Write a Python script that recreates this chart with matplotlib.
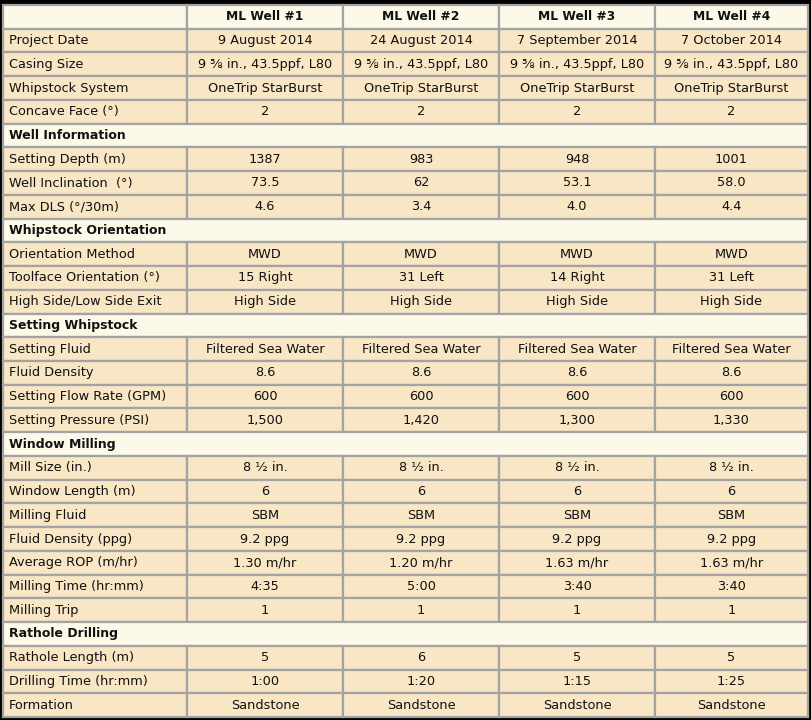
import matplotlib.pyplot as plt
from matplotlib.patches import Rectangle

# Column headers
wells = ["ML Well #1", "ML Well #2", "ML Well #3", "ML Well #4"]

# General
general_labels = ["Project Date", "Casing Size", "Whipstock System", "Concave Face (°)"]
project_date = ["9 August 2014", "24 August 2014", "7 September 2014", "7 October 2014"]
casing_size = ["9 ⅝ in., 43.5ppf, L80"] * 4
whipstock_system = ["OneTrip StarBurst"] * 4
concave_face = ["2", "2", "2", "2"]

# Well Information
well_labels = ["Setting Depth (m)", "Well Inclination  (°)", "Max DLS (°/30m)"]
setting_depth = ["1387", "983", "948", "1001"]
inclination = ["73.5", "62", "53.1", "58.0"]
max_dls = ["4.6", "3.4", "4.0", "4.4"]

# Whipstock Orientation
orient_labels = ["Orientation Method", "Toolface Orientation (°)", "High Side/Low Side Exit"]
orient_method = ["MWD"] * 4
toolface = ["15 Right", "31 Left", "14 Right", "31 Left"]
exit_side = ["High Side"] * 4

# Setting Whipstock
setting_labels = ["Setting Fluid", "Fluid Density", "Setting Flow Rate (GPM)", "Setting Pressure (PSI)"]
setting_fluid = ["Filtered Sea Water"] * 4
setting_density = ["8.6"] * 4
flow_rate = ["600"] * 4
setting_pressure = ["1,500", "1,420", "1,300", "1,330"]

# Window Milling
milling_labels = ["Mill Size (in.)", "Window Length (m)", "Milling Fluid", "Fluid Density (ppg)",
                  "Average ROP (m/hr)", "Milling Time (hr:mm)", "Milling Trip"]
mill_size = ["8 ½ in."] * 4
window_length = ["6"] * 4
milling_fluid = ["SBM"] * 4
milling_density = ["9.2 ppg"] * 4
avg_rop = ["1.30 m/hr", "1.20 m/hr", "1.63 m/hr", "1.63 m/hr"]
milling_time = ["4:35", "5:00", "3:40", "3:40"]
milling_trip = ["1"] * 4

# Rathole Drilling
rathole_labels = ["Rathole Length (m)", "Drilling Time (hr:mm)", "Formation"]
rathole_length = ["5", "6", "5", "5"]
drilling_time = ["1:00", "1:20", "1:15", "1:25"]
formation = ["Sandstone"] * 4

# Build the row list: (kind, label, values)
rows = [("header", "", wells)]
rows += [("data", l, v) for l, v in zip(general_labels,
         [project_date, casing_size, whipstock_system, concave_face])]
rows.append(("section", "Well Information", None))
rows += [("data", l, v) for l, v in zip(well_labels, [setting_depth, inclination, max_dls])]
rows.append(("section", "Whipstock Orientation", None))
rows += [("data", l, v) for l, v in zip(orient_labels, [orient_method, toolface, exit_side])]
rows.append(("section", "Setting Whipstock", None))
rows += [("data", l, v) for l, v in zip(setting_labels,
         [setting_fluid, setting_density, flow_rate, setting_pressure])]
rows.append(("section", "Window Milling", None))
rows += [("data", l, v) for l, v in zip(milling_labels,
         [mill_size, window_length, milling_fluid, milling_density, avg_rop, milling_time, milling_trip])]
rows.append(("section", "Rathole Drilling", None))
rows += [("data", l, v) for l, v in zip(rathole_labels, [rathole_length, drilling_time, formation])]

# Layout in pixel units
W, H = 811, 720
col_edges = [3, 187, 343, 499, 655, 808]
top, bottom = 5, 717
row_h = (bottom - top) / len(rows)

tan = "#f8e6c5"
cream = "#fdf9e9"
grid = "#a3a3a3"

fig = plt.figure(figsize=(W / 100, H / 100), dpi=100)
fig.patch.set_facecolor("black")
ax = fig.add_axes([0, 0, 1, 1])
ax.set_xlim(0, W)
ax.set_ylim(H, 0)
ax.axis("off")

ax.add_patch(Rectangle((0, 0), W, H, facecolor="black", edgecolor="none"))

plt.rcParams['font.family'] = ['DejaVu Sans']
fs = 9.3

for i, (kind, label, values) in enumerate(rows):
    y0 = top + i * row_h
    yc = y0 + row_h / 2
    if kind == "section":
        ax.add_patch(Rectangle((col_edges[0], y0), col_edges[-1] - col_edges[0], row_h,
                               facecolor=cream, edgecolor=grid, lw=1.6))
        ax.text(col_edges[0] + 6, yc, label, ha="left", va="center",
                fontsize=fs - 0.3, fontweight="bold", color="#111111")
        continue
    face = cream if kind == "header" else tan
    for c in range(5):
        ax.add_patch(Rectangle((col_edges[c], y0), col_edges[c + 1] - col_edges[c], row_h,
                               facecolor=face, edgecolor=grid, lw=1.6))
    if label:
        ax.text(col_edges[0] + 6, yc, label, ha="left", va="center",
                fontsize=fs, color="#111111")
    for c, v in enumerate(values):
        xc = (col_edges[c + 1] + col_edges[c + 2]) / 2
        ax.text(xc, yc, v, ha="center", va="center",
                fontsize=fs - 0.5 if kind == "header" else fs,
                fontweight="bold" if kind == "header" else "normal", color="#111111")

fig.savefig("out.png", dpi=100, facecolor="black")
